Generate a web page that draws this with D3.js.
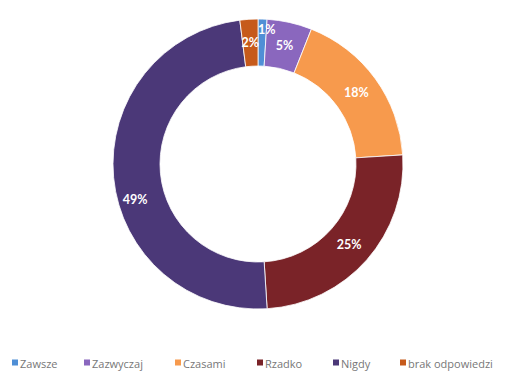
<!DOCTYPE html>
<html>
<head>
<meta charset="utf-8">
<script src="https://cdn.jsdelivr.net/npm/d3@7"></script>
<style>
  html, body { margin: 0; padding: 0; background: #ffffff; }
  svg { display: block; }
</style>
</head>
<body>
<div id="chart"></div>
<script>
// Survey answers (percent of respondents)
const categories = ["Zawsze", "Zazwyczaj", "Czasami", "Rzadko", "Nigdy", "brak odpowiedzi"];
const values = [1, 5, 18, 25, 49, 2];
const colors = ["#4f8fd6", "#8a67be", "#f79a4d", "#7a2328", "#4b3878", "#c65a1b"];

const width = 509, height = 371;
const cx = 258, cy = 164;
const outerR = 145, innerR = 98;

const svg = d3.select("#chart").append("svg")
  .attr("width", width)
  .attr("height", height);

const data = categories.map((c, i) => ({ name: c, value: values[i], color: colors[i] }));

const pie = d3.pie().value(d => d.value).sort(null);
const arc = d3.arc().innerRadius(innerR).outerRadius(outerR);
const labelArc = d3.arc().innerRadius((innerR + outerR) / 2).outerRadius((innerR + outerR) / 2);

const g = svg.append("g").attr("transform", `translate(${cx},${cy})`);
const arcs = pie(data);

g.selectAll("path.slice")
  .data(arcs)
  .join("path")
  .attr("class", "slice")
  .attr("d", arc)
  .attr("fill", d => d.data.color)
  .attr("stroke", "#ffffff")
  .attr("stroke-width", 0.8);

// small nudges so crowded labels stay readable
const nudge = { "Zawsze": [5, -13], "Nigdy": [-2, 24] };

g.selectAll("text.pct")
  .data(arcs)
  .join("text")
  .attr("class", "pct")
  .attr("transform", d => {
    const [x, y] = labelArc.centroid(d);
    const [nx, ny] = nudge[d.data.name] || [0, 0];
    return `translate(${x + nx},${y + ny})`;
  })
  .attr("text-anchor", "middle")
  .attr("dominant-baseline", "central")
  .attr("font-family", "Lato, 'Open Sans', sans-serif")
  .attr("font-weight", "bold")
  .attr("font-size", 12.5)
  .attr("fill", "#ffffff")
  .text(d => d.data.value + "%");

// legend along the bottom
const legendX = [12, 84, 175, 257, 333, 400];
const legend = svg.append("g").attr("transform", "translate(0,363)");
const items = legend.selectAll("g.item")
  .data(data)
  .join("g")
  .attr("class", "item")
  .attr("transform", (d, i) => `translate(${legendX[i]},0)`);

items.append("rect")
  .attr("x", 0).attr("y", -3.5)
  .attr("width", 6).attr("height", 6)
  .attr("fill", d => d.color);

items.append("text")
  .attr("x", 8)
  .attr("y", 0)
  .attr("dominant-baseline", "central")
  .attr("font-family", "'Open Sans', sans-serif")
  .attr("font-size", 11)
  .attr("fill", "#777777")
  .text(d => d.name);
</script>
</body>
</html>
